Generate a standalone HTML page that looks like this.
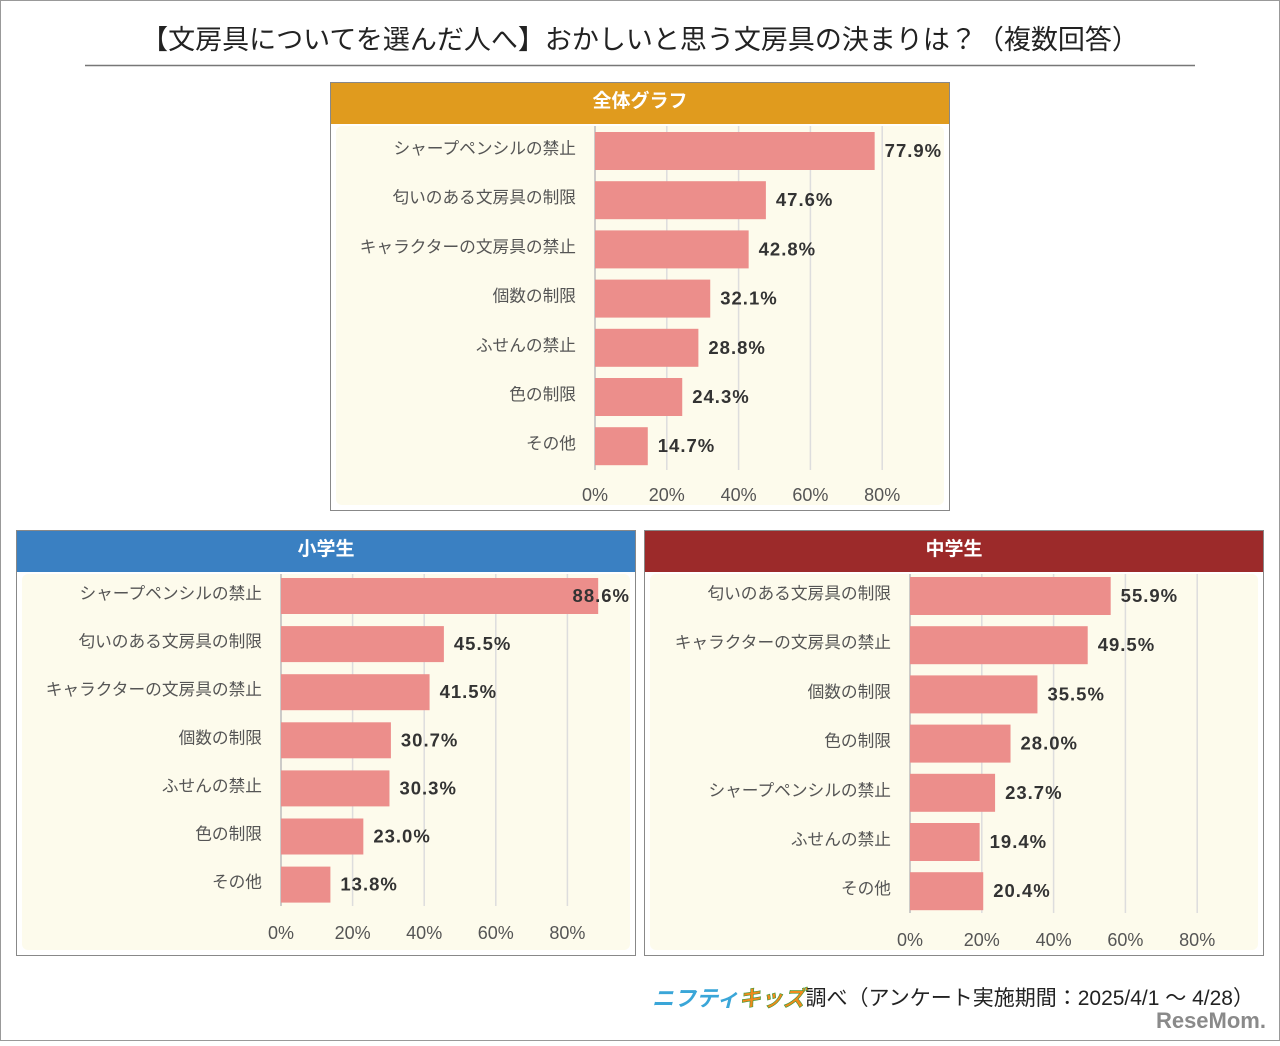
<!DOCTYPE html>
<html><head><meta charset="utf-8"><style>
body{margin:0;background:#fff;}
svg text{font-family:"Liberation Sans","Noto Sans CJK JP",sans-serif;}
</style></head><body>
<svg id="s" width="1280" height="1041" viewBox="0 0 1280 1041" xmlns="http://www.w3.org/2000/svg">
<rect x="0.5" y="0.5" width="1279" height="1040" fill="#fff" stroke="#999"/>
<text x="640" y="49" text-anchor="middle" font-size="27" fill="#222">【文房具についてを選んだ人へ】おかしいと思う文房具の決まりは？（複数回答）</text>
<line x1="85" y1="65.5" x2="1195" y2="65.5" stroke="#777" stroke-width="1.5"/>
<g>
<text x="652" y="1006" font-size="22" font-weight="bold" fill="#3aa6d8" font-style="italic">ニフティ<tspan fill="#f08a1c" stroke="#3a9a3a" stroke-width="0.6">キッズ</tspan></text>
<text x="1254" y="1005" text-anchor="end" font-size="21" fill="#222">調べ（アンケート実施期間：2025/4/1 ～ 4/28）</text>
<text x="1266" y="1028" text-anchor="end" font-size="22" font-weight="bold" fill="#8a8a8a">ReseMom.</text>
</g>
</svg>
<script>
const allCats=["シャープペンシルの禁止","匂いのある文房具の制限","キャラクターの文房具の禁止","個数の制限","ふせんの禁止","色の制限","その他"];
const allVals=[77.9,47.6,42.8,32.1,28.8,24.3,14.7];
const elemCats=["シャープペンシルの禁止","匂いのある文房具の制限","キャラクターの文房具の禁止","個数の制限","ふせんの禁止","色の制限","その他"];
const elemVals=[88.6,45.5,41.5,30.7,30.3,23.0,13.8];
const midCats=["匂いのある文房具の制限","キャラクターの文房具の禁止","個数の制限","色の制限","シャープペンシルの禁止","ふせんの禁止","その他"];
const midVals=[55.9,49.5,35.5,28.0,23.7,19.4,20.4];
const ticks=[0,20,40,60,80];
const NS="http://www.w3.org/2000/svg";
const svg=document.getElementById('s');
function mk(tag,attrs,parent){const e=document.createElementNS(NS,tag);for(const k in attrs)e.setAttribute(k,attrs[k]);(parent||svg).appendChild(e);return e;}
function panel(cfg,cats,vals){
  const g=mk('g',{});
  
  
  const bg=mk('rect',{x:cfg.x+0.5,y:cfg.y+0.5,width:cfg.w-1,height:cfg.h-1,fill:'#fff',stroke:'#888'},g);
  
  
  const pl=mk('rect',{x:cfg.x+6,y:cfg.y+44,width:cfg.w-12,height:cfg.h-50,fill:'#fdfbec',rx:6},g);
  
  
  const hd=mk('rect',{x:cfg.x+1,y:cfg.y+1,width:cfg.w-2,height:41,fill:cfg.color},g);
  
  
  const ht=mk('text',{x:cfg.x+cfg.w/2,y:cfg.y+25,'text-anchor':'middle','font-size':19,'font-weight':'bold',fill:'#fff'},g);
  ht.textContent=cfg.title;
  
  
  const xs=v=>cfg.x0+v*cfg.scale;
  const ys=i=>cfg.yc0+i*cfg.step;
  ticks.forEach(t=>{
    const l=mk('line',{x1:xs(t),x2:xs(t),y1:cfg.gy0,y2:cfg.gy1,stroke:t===0?'#bbb':'#ddd','stroke-width':1.5},g);
    
    
    const tl=mk('text',{x:xs(t),y:cfg.ty,'text-anchor':'middle','font-size':18,fill:'#555'},g);
    tl.textContent=t+'%';
    
    
  });
  cats.forEach((c,i)=>{
    const cy=ys(i);
    const b=mk('rect',{x:xs(0),y:cy-cfg.bh/2,width:vals[i]*cfg.scale,height:cfg.bh,fill:'#ec8e8b'},g);
    
    
    const cl=mk('text',{x:cfg.x0-19,y:cy+3,'text-anchor':'end','font-size':16.7,fill:'#555'},g);
    cl.textContent=c;
    
    
    let vx=xs(vals[i])+10, anchor='start';
    if(vx+60>cfg.x+cfg.w){vx=cfg.x+cfg.w-6;anchor='end';}
    const vl=mk('text',{x:vx,y:cy+6,'text-anchor':anchor,'font-size':18.5,'font-weight':'bold',fill:'#333','letter-spacing':1},g);
    vl.textContent=vals[i].toFixed(1)+'%';
    
    
  });
}
panel({name:'overall-panel',title:'全体グラフ',color:'#e09b1e',x:330,y:82,w:620,h:429,x0:595,scale:3.59,yc0:151,step:49.2,bh:38,gy0:126,gy1:470,ty:501},allCats,allVals);
panel({name:'elementary-panel',title:'小学生',color:'#3a80c2',x:16,y:530,w:620,h:426,x0:281,scale:3.58,yc0:596,step:48.1,bh:36,gy0:574,gy1:906,ty:939},elemCats,elemVals);
panel({name:'junior-high-panel',title:'中学生',color:'#9c2a2a',x:644,y:530,w:620,h:426,x0:910,scale:3.59,yc0:596,step:49.2,bh:38,gy0:574,gy1:913,ty:946},midCats,midVals);
</script>
</body></html>
